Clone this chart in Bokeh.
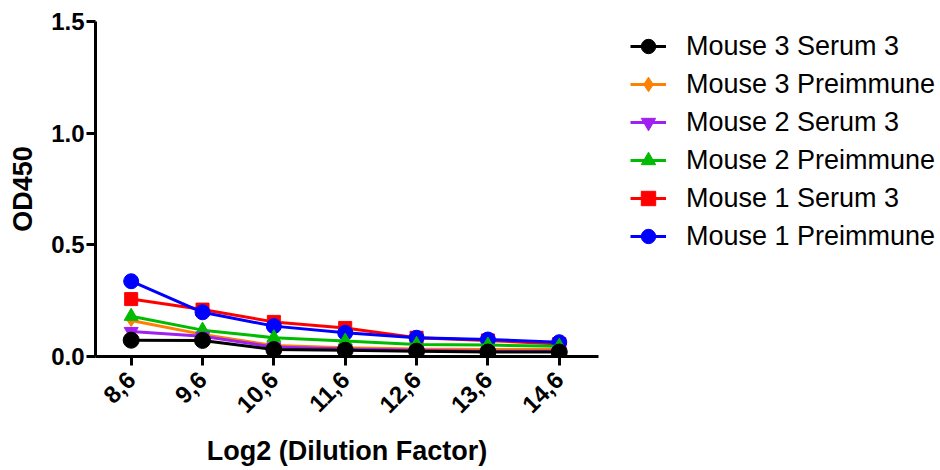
import math
from bokeh.plotting import figure
from bokeh.models import FixedTicker, Legend, LegendItem
from bokeh.embed import file_html
from bokeh.resources import INLINE

x_vals = [8.6, 9.6, 10.6, 11.6, 12.6, 13.6, 14.6]
x_labels = ["8,6", "9,6", "10,6", "11,6", "12,6", "13,6", "14,6"]
y_ticks = [0.0, 0.5, 1.0, 1.5]
y_labels = ["0.0", "0.5", "1.0", "1.5"]

series_names = ["Mouse 3 Serum 3", "Mouse 3 Preimmune", "Mouse 2 Serum 3",
                "Mouse 2 Preimmune", "Mouse 1 Serum 3", "Mouse 1 Preimmune"]
m3_serum3 = [0.073, 0.072, 0.031, 0.028, 0.024, 0.020, 0.020]
m3_pre = [0.161, 0.099, 0.049, 0.039, 0.034, 0.031, 0.031]
m2_serum3 = [0.112, 0.091, 0.043, 0.034, 0.028, 0.024, 0.024]
m2_pre = [0.180, 0.118, 0.084, 0.069, 0.054, 0.051, 0.046]
m1_serum3 = [0.257, 0.210, 0.155, 0.128, 0.084, 0.072, 0.056]
m1_pre = [0.337, 0.198, 0.136, 0.106, 0.084, 0.076, 0.064]
series_values = [m3_serum3, m3_pre, m2_serum3, m2_pre, m1_serum3, m1_pre]

colors = ["black", "#FF8000", "#A020F0", "#00BB00", "#FF0000", "#0000FF"]
markers = ["circle", "diamond", "inverted_triangle", "triangle", "square", "circle"]
sizes = [16, 12, 14, 14, 13, 15]

p = figure(frame_width=503, frame_height=335,
           x_range=(8.1, 15.15), y_range=(0, 1.5),
           output_backend="svg", toolbar_location=None,
           min_border_left=95, min_border_top=21, min_border_bottom=98,
           min_border_right=0)
p.outline_line_color = None
p.xgrid.visible = False
p.ygrid.visible = False
p.background_fill_color = "white"

renderers = {}
draw_order = [4, 5, 1, 3, 2, 0]
for i in draw_order:
    ln = p.line(x_vals, series_values[i], line_color=colors[i], line_width=3)
    sc = p.scatter(x_vals, series_values[i], marker=markers[i], size=sizes[i],
                   fill_color=colors[i], line_color=colors[i])
    renderers[i] = [ln, sc]

items = [LegendItem(label=series_names[i], renderers=renderers[i]) for i in range(6)]
legend = Legend(items=items, location=(32, 101), orientation="vertical")
legend.glyph_width = 36
legend.glyph_height = 38
legend.label_height = 38
legend.spacing = 0
legend.padding = 0
legend.margin = 0
legend.label_standoff = 20
legend.border_line_color = None
legend.background_fill_alpha = 0
legend.label_text_font = "Liberation Sans"
legend.label_text_font_size = "27px"
legend.label_text_color = "black"
p.add_layout(legend, "right")

for ax in (p.xaxis[0], p.yaxis[0]):
    ax.axis_line_width = 3
    ax.axis_line_color = "black"
    ax.major_tick_line_width = 3
    ax.major_tick_line_color = "black"
    ax.major_tick_out = 9
    ax.major_tick_in = 0
    ax.minor_tick_line_color = None
    ax.major_label_text_font = "Liberation Sans"
    ax.major_label_text_font_style = "bold"
    ax.major_label_text_font_size = "24px"
    ax.major_label_text_color = "black"
    ax.axis_label_text_font = "Liberation Sans"
    ax.axis_label_text_font_style = "bold"
    ax.axis_label_text_font_size = "27px"
    ax.axis_label_text_color = "black"

p.xaxis.ticker = FixedTicker(ticks=x_vals)
p.xaxis.major_label_overrides = {x: l for x, l in zip(x_vals, x_labels)}
p.xaxis.major_label_orientation = math.pi / 4
p.xaxis.major_label_standoff = 10
p.xaxis.axis_label = "Log2 (Dilution Factor)"
p.xaxis.axis_label_standoff = 12

p.yaxis.ticker = FixedTicker(ticks=y_ticks)
p.yaxis.major_label_overrides = {y: l for y, l in zip(y_ticks, y_labels)}
p.yaxis.major_label_standoff = 2
p.yaxis.axis_label = "OD450"
p.yaxis.axis_label_standoff = 10

open("out.html", "w").write(file_html(p, INLINE))
